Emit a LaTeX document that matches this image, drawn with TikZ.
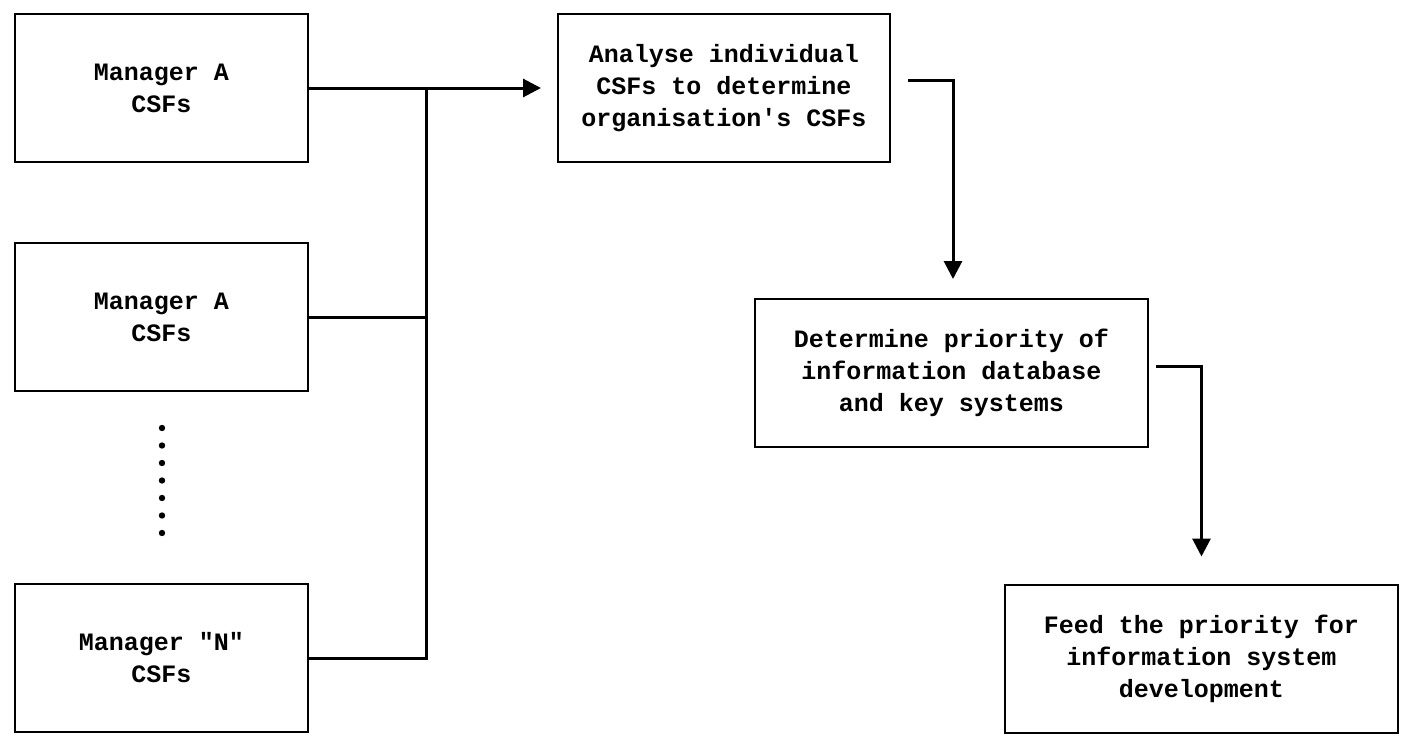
\documentclass[tikz,border=0pt]{standalone}
\usepackage{fontspec}
\setmonofont{Liberation Mono}
\usetikzlibrary{arrows.meta}
\begin{document}
\begin{tikzpicture}[x=0.5pt,y=-0.5pt,
    box/.style={draw,line width=1pt,fill=white,minimum height=74pt,align=center,
        font=\ttfamily\bfseries\fontsize{12.5}{16}\selectfont},
    link/.style={line width=1.5pt},
    arr/.style={link,-{Triangle[length=9pt,width=9pt]}}]
    \useasboundingbox (0,0) rectangle (1420,744);
    % managers on the left
    \draw (161.5,88) node[box,minimum width=146.5pt] (mA) {Manager A\\CSFs};
    \draw (161.5,317) node[box,minimum width=146.5pt] (mB) {Manager A\\CSFs};
    \draw (161.5,658) node[box,minimum width=146.5pt] (mN) {Manager "N"\\CSFs};
    \foreach \k in {0,...,6}
        \fill (162,428+17.5*\k) circle (1.6pt);
    % process steps
    \draw (724,88) node[box,minimum width=166pt] (an) {Analyse individual\\CSFs to determine\\organisation's CSFs};
    \draw (951.5,373) node[box,minimum width=196.5pt] (det) {Determine priority of\\information database\\and key systems};
    \draw (1201.5,658.5) node[box,minimum width=196.5pt] (feed) {Feed the priority for\\information system\\development};
    % connectors
    \coordinate (jn) at (426,89);
    \draw[arr,shorten >=8pt] (mA.east) -- (an.west);
    \draw[link] (mB.east) -- (mB.east -| jn);
    \draw[link] (mN.east) -| (jn);
    \draw[arr,shorten >=9.5pt] ([xshift=8.5pt,yshift=4pt]an.east) -| ([xshift=0.75pt]det.north);
    \draw[arr,shorten >=13.5pt] ([xshift=3.5pt,yshift=3.5pt]det.east) -| (feed.north);
\end{tikzpicture}
\end{document}
